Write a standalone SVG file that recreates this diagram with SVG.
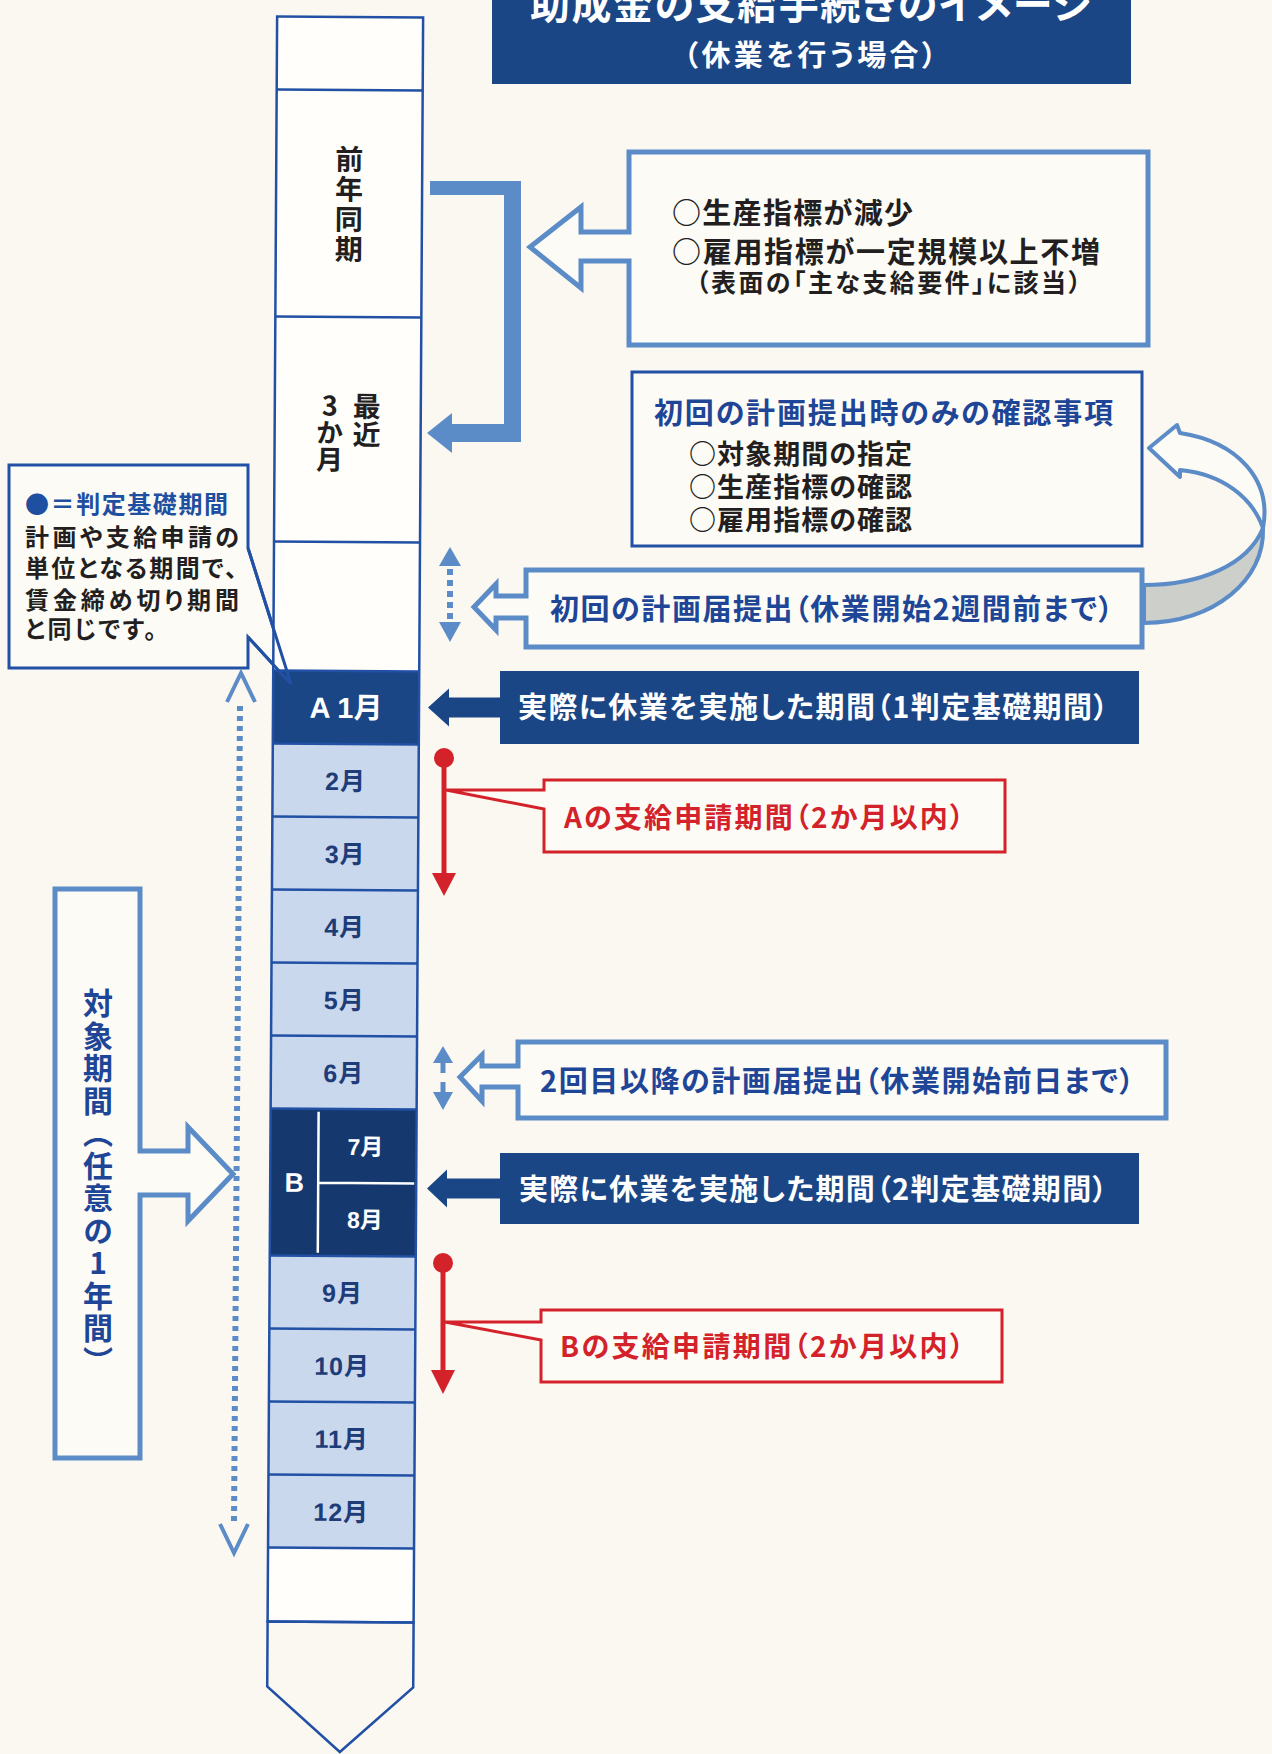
<svg xmlns="http://www.w3.org/2000/svg" width="1272" height="1754" viewBox="0 0 1272 1754">
<style>
text{font-family:"Noto Sans CJK JP","Noto Sans CJK SC",sans-serif;font-feature-settings:"palt"}
.num{font-family:"Liberation Sans","Noto Sans CJK JP",sans-serif;font-weight:bold;font-size:25px;fill:#1d3c78;text-anchor:middle;letter-spacing:1px}
.wnum{font-family:"Liberation Sans","Noto Sans CJK JP",sans-serif;font-weight:bold;fill:#ffffff;text-anchor:middle}
.navy{fill:#1b4686}
.navyB{fill:#15386f}
.cellw{fill:#fffefa}
.cellb{fill:#c9d8ec}
.grid{stroke:#2150a5;stroke-width:2.5;fill:none}
.obox{fill:#fcfbf6;stroke:#5b8cc7;stroke-width:5;stroke-linejoin:miter}
.tbox{fill:#fcfbf6;stroke:#2150a5;stroke-width:3}
.tline{fill:none;stroke:#2150a5;stroke-width:3}
.redbox{fill:#fcfbf6;stroke:#d3222a;stroke-width:3}
.mid{fill:#5b8cc7}
.blk{fill:#231f20;font-weight:bold}
.blu{fill:#1e4596;font-weight:bold}
.red{fill:#d3222a;font-weight:bold}
.wht{fill:#ffffff;font-weight:bold}
.vert{writing-mode:vertical-rl;text-orientation:upright;font-feature-settings:normal}
</style>
<rect x="0" y="0" width="1272" height="1754" fill="#fbf8f1"/>

<g id="title">
<rect x="492" y="-10" width="639" height="94" class="navy"/>
<text x="811" y="19" font-size="40" text-anchor="middle" textLength="562" class="wht">助成金の支給手続きのイメージ</text>
<text x="810" y="66" font-size="29" text-anchor="middle" textLength="253" class="wht">（休業を行う場合）</text>
</g>

<g id="callout">
<path d="M9 465H248V548L291 684L248 637V668H9Z" class="tbox"/>
<text x="25" y="513" font-size="24" textLength="203" style="fill:#1e4fa0;font-weight:bold">●＝判定基礎期間</text>
<text x="25" y="546" font-size="24" textLength="214" class="blk">計画や支給申請の</text>
<text x="25" y="577" font-size="24" textLength="212" class="blk">単位となる期間で、</text>
<text x="25" y="609" font-size="24" textLength="214" class="blk">賃金締め切り期間</text>
<text x="25" y="638" font-size="24" letter-spacing="2.5" class="blk">と同じです。</text>
</g>

<g id="timeline" transform="rotate(0.34 345 880)">
<rect x="272" y="17" width="146" height="654" class="cellw"/>
<rect x="272" y="671" width="146" height="73" class="navy"/>
<rect x="272" y="744" width="146" height="365" class="cellb"/>
<rect x="272" y="1109" width="146" height="147" class="navyB"/>
<rect x="272" y="1256" width="146" height="292" class="cellb"/>
<rect x="272" y="1548" width="146" height="74" class="cellw"/>
<path d="M272 1622H418V1687L345 1752L272 1687Z" class="cellw grid"/>
<path d="M272 90H418M272 317H418M272 542H418M272 671H418M272 744H418M272 817H418M272 890H418M272 963H418M272 1036H418M272 1109H418M272 1256H418M272 1329H418M272 1402H418M272 1475H418M272 1548H418" class="grid"/>
<rect x="272" y="17" width="146" height="1605" class="grid"/>
<path d="M320 1112V1253M320 1183H416" stroke="#ffffff" stroke-width="2.5" fill="none"/>
<text x="345" y="145" font-size="28" letter-spacing="2" class="blk vert">前年同期</text>
<text x="364" y="392" font-size="28" class="blk vert">最近</text>
<text x="327" y="392" font-size="27" class="blk vert">3か月</text>
<text x="345" y="718" font-size="29" class="wnum">A 1月</text>
<text x="345" y="790" class="num">2月</text>
<text x="345" y="863" class="num">3月</text>
<text x="345" y="936" class="num">4月</text>
<text x="345" y="1009" class="num">5月</text>
<text x="345" y="1082" class="num">6月</text>
<text x="296" y="1192" font-size="27" class="wnum">B</text>
<text x="367" y="1155" font-size="23" class="wnum">7月</text>
<text x="367" y="1228" font-size="23" class="wnum">8月</text>
<text x="345" y="1302" class="num">9月</text>
<text x="345" y="1375" class="num">10月</text>
<text x="345" y="1448" class="num">11月</text>
<text x="345" y="1521" class="num">12月</text>
</g>

<g id="callout-tail">
<path d="M248 548L291 684L248 637" class="tline"/>
</g>

<g id="box-criteria">
<path d="M629 152H1148V345H629V261H581V288L530 247L581 207V232H629Z" class="obox"/>
<text x="672" y="224" font-size="29" textLength="241" class="blk">○生産指標が減少</text>
<text x="672" y="263" font-size="29" textLength="428" class="blk">○雇用指標が一定規模以上不増</text>
<text x="696" y="292" font-size="25" textLength="385" class="blk">（表面の「主な支給要件」に該当）</text>
</g>

<g id="box-first-check">
<rect x="632" y="372" width="510" height="174" class="tbox"/>
<text x="654" y="424" font-size="29" textLength="459" class="blu">初回の計画提出時のみの確認事項</text>
<text x="689" y="464" font-size="27" textLength="223" class="blk">○対象期間の指定</text>
<text x="689" y="497" font-size="27" textLength="223" class="blk">○生産指標の確認</text>
<text x="689" y="530" font-size="27" textLength="223" class="blk">○雇用指標の確認</text>
</g>

<g id="box-first-plan">
<path d="M526 570H1142V647H526V618H496V630L474 607L496 584V596H526Z" class="obox"/>
<text x="550" y="620" font-size="29" textLength="563" class="blu">初回の計画届提出（休業開始2週間前まで）</text>
</g>

<g id="period-A">
<path d="M500 671H1139V744H500V717.5H449V726.5L428 707.5L449 688.5V697.5H500Z" class="navy"/>
<text x="518" y="718" font-size="29" textLength="590" class="wht">実際に休業を実施した期間（1判定基礎期間）</text>
</g>

<g id="claim-A">
<path d="M446 790H544V780H1005V852H544V809Z" class="redbox"/>
<text x="564" y="828" font-size="28" textLength="400" class="red">Aの支給申請期間（2か月以内）</text>
</g>

<g id="box-second-plan">
<path d="M518 1042H1166V1118H518V1087H482V1101L460 1077L482 1055V1066H518Z" class="obox"/>
<text x="540" y="1092" font-size="29" textLength="594" class="blu">2回目以降の計画届提出（休業開始前日まで）</text>
</g>

<g id="period-B">
<path d="M500 1153H1139V1224H500V1198.5H447V1207.5L427 1188.5L447 1169.5V1178.5H500Z" class="navy"/>
<text x="519" y="1200" font-size="29" textLength="588" class="wht">実際に休業を実施した期間（2判定基礎期間）</text>
</g>

<g id="claim-B">
<path d="M445 1322H541V1310H1002V1382H541V1340Z" class="redbox"/>
<text x="560" y="1357" font-size="28" textLength="404" class="red">Bの支給申請期間（2か月以内）</text>
</g>

<g id="target-period">
<path d="M55 889H140V1151H188V1127L233 1174L188 1221V1195H140V1458H55Z" class="obox"/>
<text x="98" y="988" font-size="30" letter-spacing="2.5" class="vert" style="fill:#1e4596;font-weight:bold">対象期間（任意の1年間）</text>
</g>

<g id="connectors">
<path d="M430 181H521V442H452V453L427 433L452 413V424H504V195H430Z" class="mid"/>
<path d="M1144 585C1200 585 1248 565 1263 528C1265 580 1215 622 1144 623Z" fill="#cdcfcb" stroke="#5b8cc7" stroke-width="4" stroke-linejoin="round"/>
<path d="M1263 528C1272 480 1238 442 1180 433L1177 425L1149 448L1180 477L1180 470C1222 474 1252 497 1263 528Z" fill="#fcfbf6" stroke="#5b8cc7" stroke-width="4" stroke-linejoin="round"/>
<path d="M439 566L450 547L461 566Z" class="mid"/>
<path d="M450 569V620" stroke="#5b8cc7" stroke-width="6" stroke-dasharray="6 5" fill="none"/>
<path d="M439 622H461L450 642Z" class="mid"/>
<path d="M433 1063L443 1046L453 1063Z" class="mid"/>
<rect x="440.5" y="1062" width="5" height="11" class="mid"/>
<rect x="440.5" y="1082" width="5" height="11" class="mid"/>
<path d="M433 1092H453L443 1110Z" class="mid"/>
<path d="M240 706L234 1522" stroke="#5b8cc7" stroke-width="6" stroke-dasharray="5 5" fill="none"/>
<path d="M227 702L241 673L255 702" stroke="#5b8cc7" stroke-width="4" fill="none" stroke-linejoin="miter"/>
<path d="M220 1524L234 1553L248 1524" stroke="#5b8cc7" stroke-width="4" fill="none" stroke-linejoin="miter"/>
<circle cx="444" cy="758" r="10" fill="#d3222a"/>
<path d="M444 758V876" stroke="#d3222a" stroke-width="5"/>
<path d="M432 873H456L444 896Z" fill="#d3222a"/>
<circle cx="443" cy="1263" r="10" fill="#d3222a"/>
<path d="M443 1263V1372" stroke="#d3222a" stroke-width="5"/>
<path d="M431 1370H455L443 1394Z" fill="#d3222a"/>
</g>
</svg>
